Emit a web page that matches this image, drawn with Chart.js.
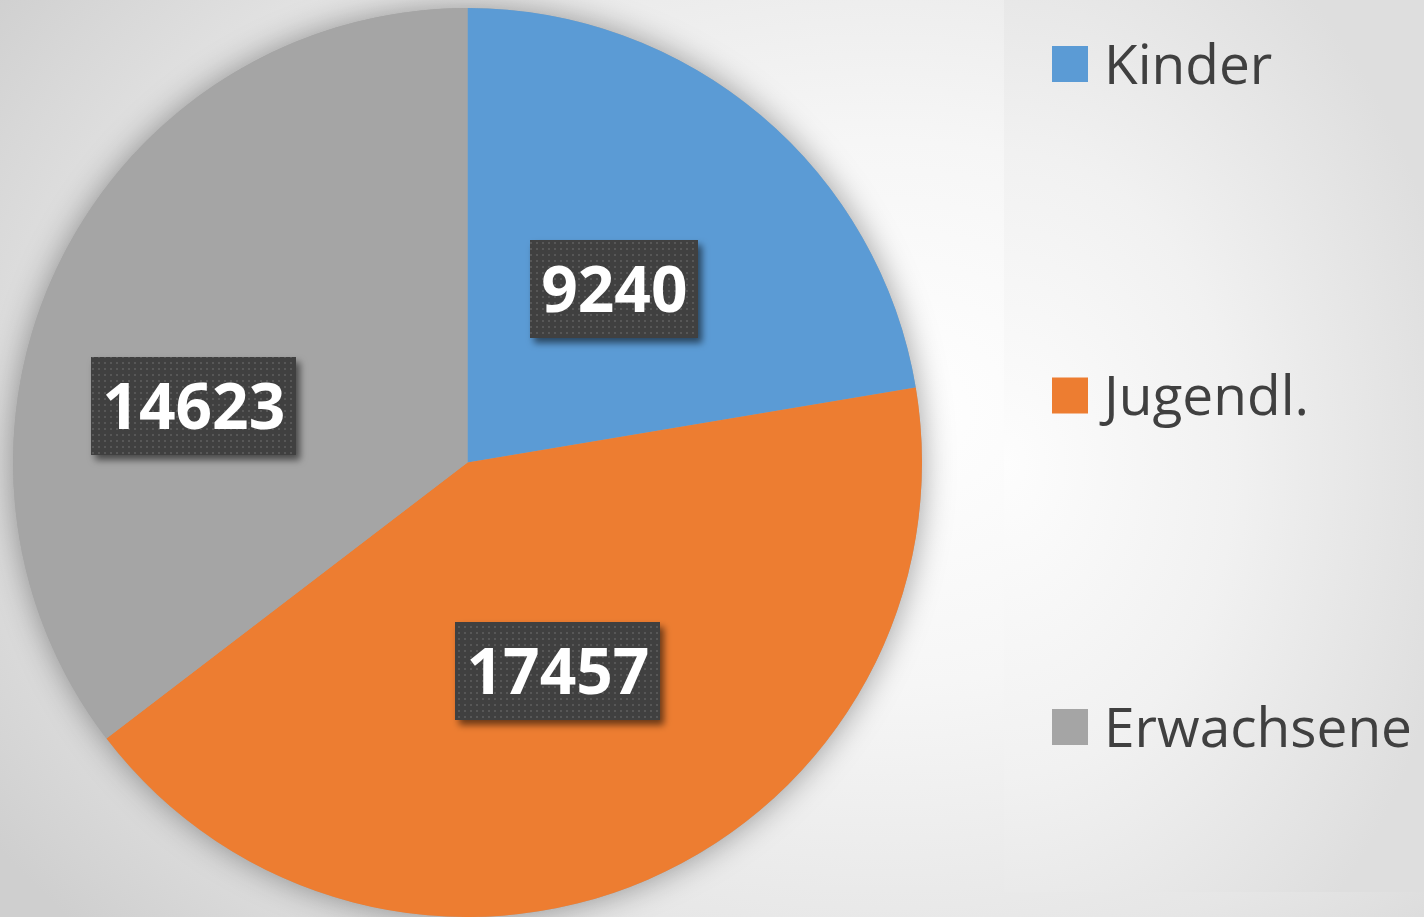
<!DOCTYPE html>
<html>
<head>
<meta charset="utf-8">
<script src="https://cdn.jsdelivr.net/npm/chart.js@4"></script>
<style>
  html, body { margin: 0; padding: 0; }
  body {
    width: 1424px; height: 917px; overflow: hidden; position: relative;
    background: radial-gradient(ellipse 75% 85% at 62% 45%, #ffffff 0%, #f6f6f6 35%, #e6e6e6 70%, #cfcfcf 100%);
  }
  #legendBox {
    position: absolute; left: 1004px; top: 0; width: 420px; height: 892px;
    background: radial-gradient(ellipse 110% 70% at 0% 52%, #fdfdfd 0%, #f1f1f1 50%, #dedede 100%);
  }
  #chart { position: absolute; left: 0; top: 0; }
</style>
</head>
<body>
<div id="legendBox"></div>
<canvas id="chart" width="1424" height="917"></canvas>
<script>
const categories = ['Kinder', 'Jugendl.', 'Erwachsene'];
const values = [9240, 17457, 14623];
const sliceColors = ['#5B9BD5', '#ED7D31', '#A5A5A5'];

function makeDotPattern(ctx) {
    const tile = document.createElement('canvas');
    tile.width = 6;
    tile.height = 6;
    const t = tile.getContext('2d');
    t.fillStyle = '#404040';
    t.fillRect(0, 0, 6, 6);
    t.fillStyle = '#575757';
    t.fillRect(2, 2, 2, 2);
    return ctx.createPattern(tile, 'repeat');
}

// soft halo behind the pie
const pieShadow = {
    id: 'pieShadow',
    beforeDatasetsDraw(chart) {
        const arc = chart.getDatasetMeta(0).data[0];
        if (!arc) return;
        const ctx = chart.ctx;
        ctx.save();
        ctx.shadowColor = 'rgba(0,0,0,0.38)';
        ctx.shadowBlur = 32;
        ctx.fillStyle = '#a5a5a5';
        ctx.beginPath();
        ctx.arc(arc.x, arc.y, arc.outerRadius, 0, Math.PI * 2);
        ctx.fill();
        ctx.restore();
    }
};

// value boxes on the slices
const valueBoxes = {
    id: 'valueBoxes',
    afterDatasetsDraw(chart, args, opts) {
        const ctx = chart.ctx;
        const meta = chart.getDatasetMeta(0);
        const pattern = makeDotPattern(ctx);
        ctx.save();
        ctx.font = 'bold ' + opts.fontSize + 'px "Open Sans"';
        meta.data.forEach(function(arc, i) {
            const mid = (arc.startAngle + arc.endAngle) / 2;
            const r = arc.outerRadius * 0.5;
            const nudge = opts.nudge[i] || [0, 0];
            const cx = arc.x + Math.cos(mid) * r + nudge[0];
            const cy = arc.y + Math.sin(mid) * r + nudge[1];
            const text = String(chart.data.datasets[0].data[i]);
            const w = ctx.measureText(text).width + opts.padX * 2;
            const h = opts.boxHeight;
            ctx.save();
            ctx.shadowColor = 'rgba(0,0,0,0.55)';
            ctx.shadowOffsetX = 4;
            ctx.shadowOffsetY = 5;
            ctx.shadowBlur = 7;
            ctx.fillStyle = pattern;
            ctx.fillRect(Math.round(cx - w / 2), Math.round(cy - h / 2), Math.round(w), h);
            ctx.restore();
            ctx.fillStyle = '#ffffff';
            ctx.textAlign = 'center';
            ctx.textBaseline = 'alphabetic';
            ctx.fillText(text, cx, cy + opts.fontSize * 0.357);
        });
        ctx.restore();
    }
};

// legend on the right
const sideLegend = {
    id: 'sideLegend',
    afterDraw(chart, args, opts) {
        const ctx = chart.ctx;
        const colors = chart.data.datasets[0].backgroundColor;
        ctx.save();
        ctx.font = opts.fontSize + 'px "Open Sans"';
        ctx.textBaseline = 'alphabetic';
        ctx.textAlign = 'left';
        chart.data.labels.forEach(function(label, i) {
            const cy = opts.firstRow + i * opts.rowStep;
            ctx.fillStyle = colors[i];
            ctx.fillRect(opts.x, cy - opts.box / 2, opts.box, opts.box);
            ctx.fillStyle = '#404040';
            ctx.fillText(label, opts.x + opts.box + 16, cy + opts.fontSize * 0.357);
        });
        ctx.restore();
    }
};

new Chart(document.getElementById('chart'), {
    type: 'pie',
    data: {
        labels: categories,
        datasets: [{
            data: values,
            backgroundColor: sliceColors,
            borderWidth: 0
        }]
    },
    options: {
        responsive: false,
        animation: false,
        events: [],
        layout: { padding: { left: 13, top: 8, right: 502, bottom: 0 } },
        plugins: {
            legend: { display: false },
            tooltip: { enabled: false },
            valueBoxes: { fontSize: 64, padX: 11, boxHeight: 98, nudge: [[0, 0], [0, 0], [-70, 44]] },
            sideLegend: { x: 1052, box: 36, firstRow: 64, rowStep: 331.5, fontSize: 55 }
        }
    },
    plugins: [pieShadow, valueBoxes, sideLegend]
});
</script>
</body>
</html>
